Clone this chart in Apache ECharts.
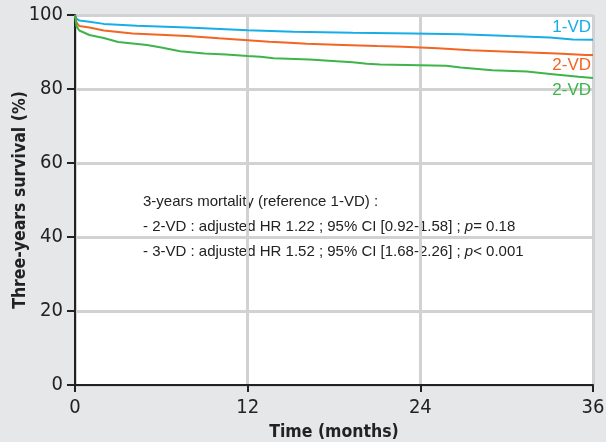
<!DOCTYPE html>
<html><head><meta charset="utf-8">
<script src="https://cdn.jsdelivr.net/npm/echarts@6/dist/echarts.min.js"></script>
<style>html,body{margin:0;padding:0;background:#e6e7e9;}#c{width:606px;height:442px;}</style>
</head><body><div id="c"></div>
<script>
const xTicks = [0, 12, 24, 36];
const yTicks = [0, 20, 40, 60, 80, 100];
const seriesNames = ['1-VD', '2-VD', '2-VD'];
const oneVD = [[0,100],[0.1,99],[0.3,98.5],[1,98.2],[2,97.6],[4.3,97.1],[7.8,96.6],[12,95.9],[15.2,95.5],[19.3,95.2],[23.5,95.0],[26.8,94.8],[30.2,94.3],[33,93.9],[34.6,93.4],[36,93.3]];
const twoVD = [[0,100],[0.1,98],[0.3,97],[1,96.6],[2,95.8],[4,95],[7.8,94.3],[10,93.7],[12,93.2],[13.5,92.8],[14.9,92.5],[16.1,92.2],[18.6,91.9],[21,91.6],[22.8,91.4],[24,91.2],[25.2,91],[27.5,90.5],[30.2,90.1],[33.5,89.6],[35.5,89.2],[36,89.2]];
const threeVD = [[0,100],[0.1,97],[0.3,95.8],[1,94.6],[2,93.8],[3,92.7],[4,92.3],[5,91.9],[6,91.2],[7.3,90.2],[9,89.6],[10.5,89.3],[12,88.9],[12.9,88.7],[13.8,88.3],[16.3,88],[17.9,87.6],[19.3,87.2],[20.3,86.8],[21.2,86.6],[25.8,86.3],[26.8,85.8],[29,85.1],[31.4,84.7],[33.2,84],[35,83.3],[36,83]];
const annotation = [
  '3-years mortality (reference 1-VD) :',
  '- 2-VD : adjusted HR 1.22 ; 95% CI [0.92-1.58] ; {i|p}= 0.18',
  '- 3-VD : adjusted HR 1.52 ; 95% CI [1.68-2.26] ; {i|p}< 0.001'
];
const colors = ['#17aee8', '#f26522', '#3db54a'];
const font = '"DejaVu Sans Condensed", "Liberation Sans", Arial, sans-serif';
const font2 = '"Liberation Sans", Arial, sans-serif';

const chart = echarts.init(document.getElementById('c'));
function mk(name, data, color, labelOffset) {
  return {
    name, type: 'line', data, showSymbol: false, symbol: 'none',
    lineStyle: { color, width: 2 }, itemStyle: { color },
    endLabel: { show: true, formatter: name, color, fontFamily: font2, fontSize: 17,
      align: 'right', offset: labelOffset },
    silent: true, animation: false
  };
}
chart.setOption({
  backgroundColor: '#e6e7e9',
  animation: false,
  grid: { left: 75, right: 13, top: 15, bottom: 57, show: true, backgroundColor: '#ffffff', borderWidth: 0, outerBoundsMode: 'none', containLabel: false },
  xAxis: {
    type: 'value', min: 0, max: 36, interval: 12,
    name: 'Time (months)', nameLocation: 'middle', nameGap: 38, nameMoveOverlap: false,
    nameTextStyle: { fontFamily: font, fontSize: 17.5, fontWeight: 'bold', color: '#222' },
    axisLine: { show: true, lineStyle: { color: '#222', width: 2 } },
    axisTick: { show: true, length: 7, lineStyle: { color: '#222', width: 2 } },
    axisLabel: { fontFamily: font, fontSize: 20, color: '#222', margin: 13, showMaxLabel: true,
      formatter: v => xTicks.includes(v) ? String(v) : '' },
    splitLine: { show: true, lineStyle: { color: '#d2d2d2', width: 3 } }
  },
  yAxis: {
    type: 'value', min: 0, max: 100, interval: 20,
    name: 'Three-years survival (%)', nameLocation: 'middle', nameGap: 46, nameMoveOverlap: false,
    nameTextStyle: { fontFamily: font, fontSize: 17.5, fontWeight: 'bold', color: '#222' },
    axisLine: { show: true, lineStyle: { color: '#222', width: 2 } },
    axisTick: { show: true, length: 8, lineStyle: { color: '#222', width: 2 } },
    axisLabel: { fontFamily: font, fontSize: 20, color: '#222', margin: 12,
      formatter: v => yTicks.includes(v) ? String(v) : '' },
    splitLine: { show: true, lineStyle: { color: '#d2d2d2', width: 3 } }
  },
  series: [
    mk(seriesNames[0], oneVD, colors[0], [-10, -12]),
    mk(seriesNames[1], twoVD, colors[1], [-10, 10]),
    mk(seriesNames[2], threeVD, colors[2], [-10, 12])
  ],
  graphic: annotation.map((t, i) => ({
    type: 'text', left: 143, top: 194 + i * 25, silent: true,
    style: { text: t, fontFamily: font2, fontSize: 15, fill: '#222',
      rich: { i: { fontStyle: 'italic', fontFamily: font2, fontSize: 15, fill: '#222' } } }
  }))
});
</script></body></html>
